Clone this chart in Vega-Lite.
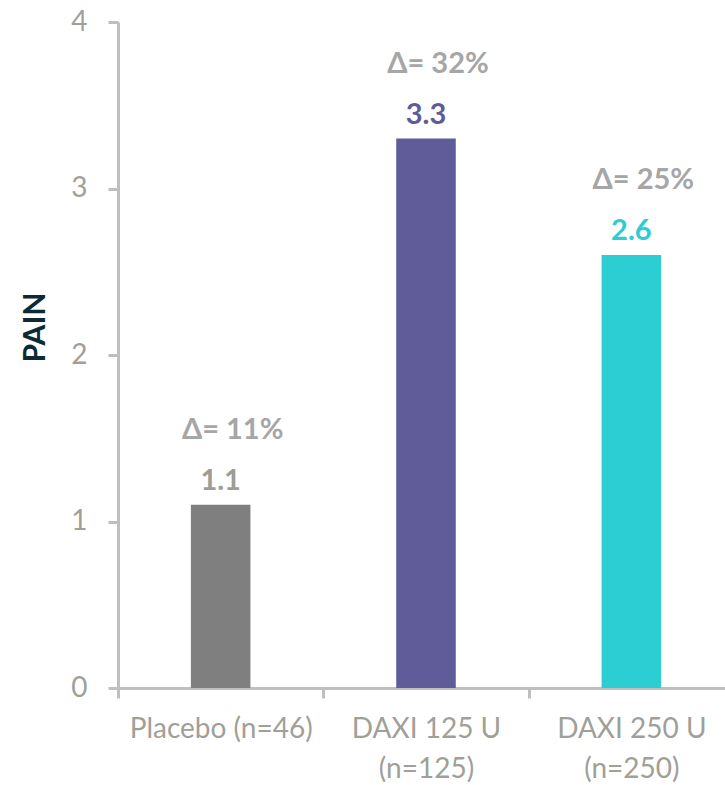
{
  "$schema": "https://vega.github.io/schema/vega-lite/v6.json",
  "autosize": {"type": "none"},
  "padding": {"left": 118, "top": 22, "right": 0, "bottom": 97},
  "width": 616,
  "height": 666,
  "background": "white",
  "config": {
    "view": {"stroke": null},
    "font": "Lato"
  },
  "data": {
    "values": [
      {"group": "Placebo (n=46)", "value": 1.1, "delta": "Δ= 11%"},
      {"group": "DAXI 125 U|(n=125)", "value": 3.3, "delta": "Δ= 32%"},
      {"group": "DAXI 250 U|(n=250)", "value": 2.6, "delta": "Δ= 25%"}
    ]
  },
  "encoding": {
    "x": {
      "field": "group",
      "type": "nominal",
      "sort": null,
      "scale": {"paddingInner": 0, "paddingOuter": 0},
      "axis": {
        "title": null,
        "labelAngle": 0,
        "labelExpr": "split(datum.label, '|')",
        "labelFont": "Lato",
        "labelFontSize": 28,
        "labelColor": "#9fa098",
        "labelLineHeight": 40,
        "labelPadding": 17,
        "labelLimit": 0,
        "domainColor": "#bfbfbf",
        "domainWidth": 3,
        "tickColor": "#bfbfbf",
        "tickWidth": 3,
        "tickSize": 10,
        "tickBand": "extent",
        "grid": false
      }
    }
  },
  "layer": [
    {
      "mark": {"type": "bar", "width": {"band": 0.29}},
      "encoding": {
        "y": {
          "field": "value",
          "type": "quantitative",
          "scale": {"domain": [0, 4], "nice": false},
          "axis": {
            "title": "PAIN",
            "titleFont": "Lato",
            "titleFontSize": 30,
            "titleFontWeight": "bold",
            "titleColor": "#0d2b36",
            "titleAngle": -90,
            "titleBaseline": "middle",
            "titleAlign": "center",
            "titleX": -83,
            "titleY": 305,
            "values": [0, 1, 2, 3, 4],
            "format": "d",
            "labelFont": "Lato",
            "labelFontSize": 28,
            "labelColor": "#9fa098",
            "labelPadding": 21,
            "domainColor": "#bfbfbf",
            "domainWidth": 3,
            "tickColor": "#bfbfbf",
            "tickWidth": 3,
            "tickSize": 10,
            "grid": false
          }
        },
        "color": {
          "field": "group",
          "type": "nominal",
          "sort": null,
          "scale": {"range": ["#7f7f7f", "#5f5c99", "#2dcdd4"]},
          "legend": null
        }
      }
    },
    {
      "mark": {"type": "text", "dy": -24, "fontWeight": "bold", "fontSize": 29, "font": "Lato", "baseline": "middle"},
      "encoding": {
        "y": {"field": "value", "type": "quantitative"},
        "text": {"field": "value", "type": "quantitative", "format": ".1f"},
        "color": {
          "field": "group",
          "type": "nominal",
          "sort": null,
          "scale": {"range": ["#9c9e96", "#5f5b97", "#2ecdd3"]},
          "legend": null
        }
      }
    },
    {
      "mark": {"type": "text", "dy": -75, "dx": 12, "fontWeight": "bold", "fontSize": 29, "font": "Lato", "baseline": "middle", "color": "#a6a6a6"},
      "encoding": {
        "y": {"field": "value", "type": "quantitative"},
        "text": {"field": "delta"}
      }
    }
  ],
  "resolve": {"scale": {"color": "independent"}}
}
